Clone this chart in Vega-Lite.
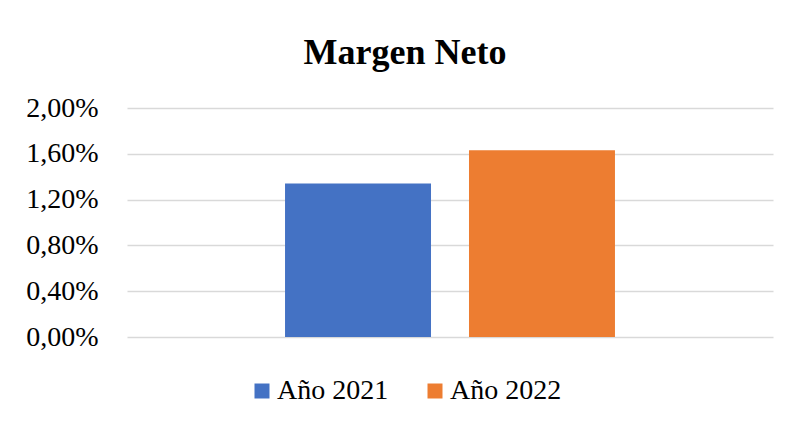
{
  "$schema": "https://vega.github.io/schema/vega-lite/v6.json",
  "autosize": "none",
  "width": 646,
  "height": 229,
  "padding": {"left": 127, "top": 108, "right": 17, "bottom": 84},
  "background": "white",
  "title": {
    "text": "Margen Neto",
    "font": "Liberation Serif",
    "fontSize": 36,
    "fontWeight": "bold",
    "color": "#000000",
    "anchor": "middle",
    "dx": -45,
    "offset": 22
  },
  "data": {
    "values": [
      {"Año": "Año 2021", "valor": 0.0134},
      {"Año": "Año 2022", "valor": 0.0163}
    ]
  },
  "mark": {"type": "bar"},
  "encoding": {
    "x": {
      "field": "Año",
      "type": "nominal",
      "axis": null,
      "scale": {"paddingInner": 0.2065, "paddingOuter": 0.859}
    },
    "y": {
      "field": "valor",
      "type": "quantitative",
      "scale": {"domain": [0, 0.02], "nice": false},
      "axis": {
        "values": [0, 0.004, 0.008, 0.012, 0.016, 0.02],
        "labelExpr": "replace(format(datum.value, '.2%'), '.', ',')",
        "title": null,
        "domain": false,
        "ticks": false,
        "labelFont": "Liberation Serif",
        "labelFontSize": 28,
        "labelColor": "#000000",
        "labelPadding": 29,
        "gridColor": "#d9d9d9",
        "gridWidth": 1.5
      }
    },
    "color": {
      "field": "Año",
      "type": "nominal",
      "scale": {"range": ["#4472C4", "#ED7D31"]},
      "legend": {
        "orient": "none",
        "legendX": 121,
        "legendY": 269,
        "direction": "horizontal",
        "title": null,
        "symbolType": "square",
        "symbolSize": 225,
        "symbolStrokeWidth": 0,
        "labelFont": "Liberation Serif",
        "labelFontSize": 28,
        "labelColor": "#000000",
        "labelOffset": 1,
        "columnPadding": 32
      }
    }
  },
  "config": {"view": {"stroke": null}}
}
